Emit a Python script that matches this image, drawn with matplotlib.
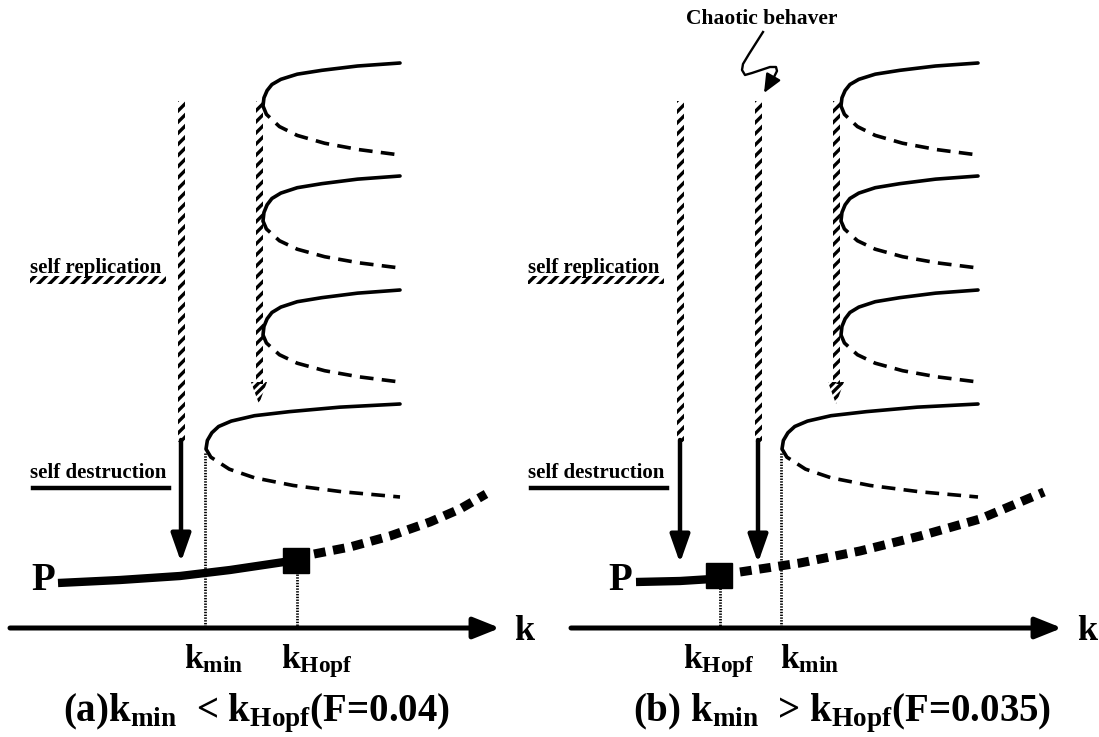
import numpy as np
import matplotlib.pyplot as plt
from matplotlib.patches import Rectangle, Polygon

plt.rcParams['font.family'] = ['Liberation Serif', 'DejaVu Serif']
plt.rcParams['font.weight'] = 'bold'
plt.rcParams['mathtext.fontset'] = 'custom'
plt.rcParams['mathtext.rm'] = 'Liberation Serif:bold'
plt.rcParams['mathtext.it'] = 'Liberation Serif:bold'
plt.rcParams['mathtext.bf'] = 'Liberation Serif:bold'
plt.rcParams['hatch.linewidth'] = 2.4

# ---- diagram geometry (pixel coordinates) ----

# fold shape template (normalised), upper stable / lower unstable branch
up_t = [0, 0.007, 0.03, 0.065, 0.13, 0.25, 0.43, 0.69, 1]
up_s = [0, 0.19, 0.36, 0.50, 0.62, 0.74, 0.83, 0.93, 1]
lo_t = [0, 0.025, 0.12, 0.25, 0.45, 0.70, 1]
lo_s = [0, 0.17, 0.42, 0.60, 0.76, 0.89, 1]

# folds: tip x, tip y, end x, upper end y, lower end y
folds_a = [(263, 106, 400, 63, 155), (263, 221, 400, 176, 268),
           (263, 335, 400, 290, 382), (206, 449, 400, 404, 497)]
folds_b = [(841, 106, 978, 63, 155), (841, 221, 978, 176, 268),
           (841, 335, 978, 290, 382), (782, 449, 978, 404, 497)]

# P branch stable / unstable parts
p_stable_a_x = [58, 120, 180, 230, 284]
p_stable_a_y = [583, 580, 576, 570, 562]
p_unst_a_x = [314, 350, 390, 430, 460, 486]
p_unst_a_y = [554, 547, 536, 522, 509, 494]
hopf_a = (296, 560)

p_stable_b_x = [636, 680, 712]
p_stable_b_y = [582, 581, 579]
p_unst_b_x = [740, 800, 860, 920, 980, 1044]
p_unst_b_y = [572, 563, 551, 536, 519, 492]
hopf_b = (719, 575)

axis_y = 628
axis_a = (10, 500)
axis_b = (571, 1062)

kmin_a, khopf_a = 205, 297
khopf_b, kmin_b = 720, 781

# squiggle for "Chaotic behaver"
sq_x = [763, 756, 749, 743, 742, 745, 752, 761, 770, 776, 777, 774, 768, 764]
sq_y = [32, 43, 54, 64, 70, 75, 73, 70, 67, 67, 71, 77, 86, 93]

fig = plt.figure(figsize=(10.99, 7.37), dpi=100)
ax = fig.add_axes([0, 0, 1, 1])
ax.set_xlim(0, 1099)
ax.set_ylim(737, 0)
ax.axis('off')


def hatched_bar(x, y0, y1, w=7):
    ax.add_patch(Rectangle((x - w / 2, y0), w, y1 - y0, facecolor='none',
                           edgecolor='black', lw=0, hatch='///'))


def hatched_head(x, y0, y1, hw=8):
    ax.add_patch(Polygon([(x - hw, y0), (x + hw, y0), (x, y1)], facecolor='none',
                         edgecolor='black', lw=0, hatch='////'))


def solid_arrow(x, y0, y1):
    ax.annotate('', xy=(x, y1), xytext=(x, y0),
                arrowprops=dict(arrowstyle='-|>,head_length=0.85,head_width=0.3',
                                lw=3.2, color='black', mutation_scale=20,
                                shrinkA=0, shrinkB=0))


def fold(tx, ty, ex, uy, ly):
    xu = [tx + t * (ex - tx) for t in up_t]
    yu = [ty + s * (uy - ty) for s in up_s]
    xl = [tx + t * (ex - tx) for t in lo_t]
    yl = [ty + s * (ly - ty) for s in lo_s]
    ax.plot(xu, yu, color='black', lw=2.6, solid_capstyle='round')
    ax.plot(xl, yl, color='black', lw=2.6, dashes=(3.8, 2.3))


for f in folds_a + folds_b:
    fold(*f)

# thin dotted verticals
for x, y0 in [(kmin_a, 453), (khopf_a, 574), (khopf_b, 588), (kmin_b, 453)]:
    ax.plot([x, x], [y0, axis_y], color='black', lw=2.0, dashes=(0.5, 0.5))

# k axes
for x0, x1 in [axis_a, axis_b]:
    ax.annotate('', xy=(x1, axis_y), xytext=(x0, axis_y),
                arrowprops=dict(arrowstyle='-|>,head_length=0.8,head_width=0.32',
                                lw=3.6, color='black', mutation_scale=20,
                                shrinkA=0, shrinkB=0))
ax.text(524, 632, 'k', fontsize=26, ha='center', va='center')
ax.text(1087, 632, 'k', fontsize=26, ha='center', va='center')

# P branches
ax.plot(p_stable_a_x, p_stable_a_y, color='black', lw=6, solid_capstyle='butt')
ax.plot(p_unst_a_x, p_unst_a_y, color='black', lw=6.5, dashes=(1.3, 0.85))
ax.plot(p_stable_b_x, p_stable_b_y, color='black', lw=6, solid_capstyle='butt')
ax.plot(p_unst_b_x, p_unst_b_y, color='black', lw=6.5, dashes=(1.3, 0.85))
for hx, hy in [hopf_a, hopf_b]:
    ax.add_patch(Rectangle((hx - 13, hy - 12.5), 26, 25, color='black'))
ax.text(43, 580, 'P', fontsize=28, ha='center', va='center')
ax.text(620, 580, 'P', fontsize=28, ha='center', va='center')

# vertical arrows, panel a
hatched_bar(181, 101, 442)
solid_arrow(181, 440, 562)
hatched_bar(259, 101, 384)
hatched_head(259, 382, 404)

# vertical arrows, panel b
hatched_bar(680, 101, 442)
solid_arrow(680, 440, 563)
hatched_bar(758, 101, 442)
solid_arrow(758, 440, 563)
hatched_bar(836, 101, 384)
hatched_head(836, 382, 404)

# side labels
for x0 in [30, 528]:
    ax.text(x0, 268, 'self replication', fontsize=15, ha='left', va='center')
    ax.add_patch(Rectangle((x0, 276), 136, 8, facecolor='none',
                           edgecolor='black', lw=0, hatch='///'))
    ax.text(x0, 473, 'self destruction', fontsize=15, ha='left', va='center')
    ax.plot([x0 + 3, x0 + 139], [488, 488], color='black', lw=3.2)

# chaotic annotation
ax.text(762, 19, 'Chaotic behaver', fontsize=15.5, ha='center', va='center')
ax.plot(sq_x[:-1], sq_y[:-1], color='black', lw=1.7)
ax.annotate('', xy=(sq_x[-1], sq_y[-1]), xytext=(sq_x[-2], sq_y[-2]),
            arrowprops=dict(arrowstyle='-|>,head_length=0.8,head_width=0.35',
                            lw=1.7, color='black', mutation_scale=14,
                            shrinkA=0, shrinkB=0))

# tick labels on the k axis
ax.text(184, 668, r'k$_{\rm min}$', fontsize=24, ha='left', va='baseline')
ax.text(281, 668, r'k$_{\rm Hopf}$', fontsize=24, ha='left', va='baseline')
ax.text(683, 668, r'k$_{\rm Hopf}$', fontsize=24, ha='left', va='baseline')
ax.text(780, 668, r'k$_{\rm min}$', fontsize=24, ha='left', va='baseline')

# captions
ax.text(256, 713, r'(a)k$_{\rm min}$  < k$_{\rm Hopf}$(F=0.04)', fontsize=28,
        ha='center', va='center')
ax.text(842, 713, r'(b) k$_{\rm min}$  > k$_{\rm Hopf}$(F=0.035)', fontsize=28,
        ha='center', va='center')

fig.savefig('out.png', dpi=100)
